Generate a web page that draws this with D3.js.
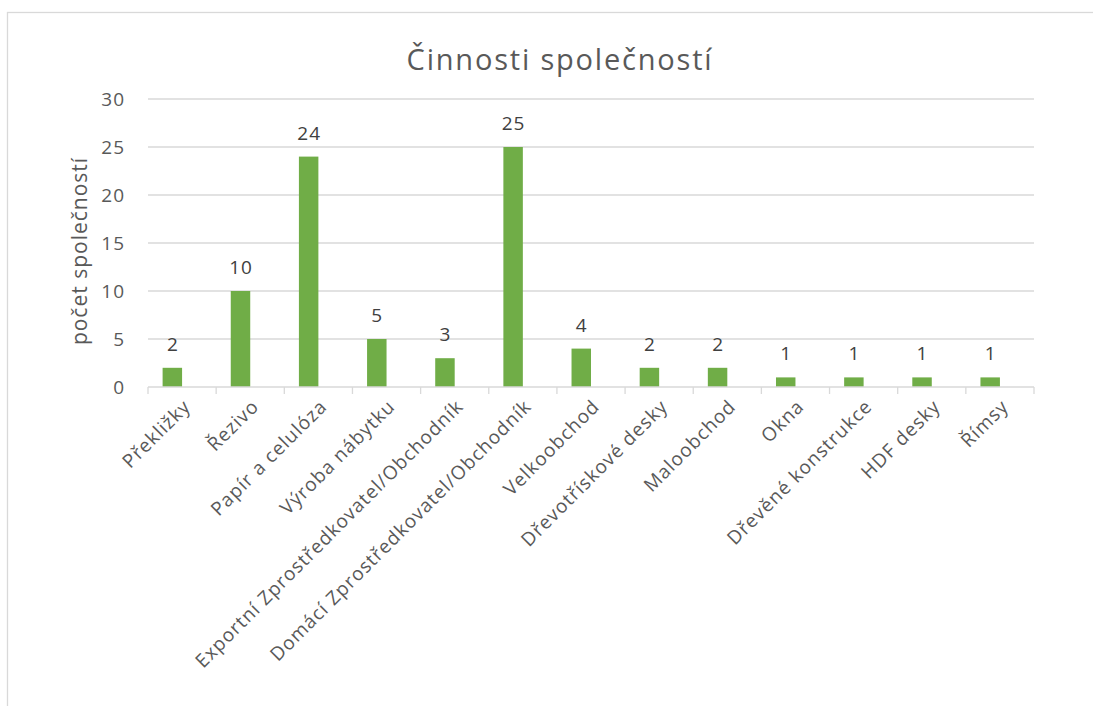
<!DOCTYPE html>
<html>
<head>
<meta charset="utf-8">
<title>Činnosti společností</title>
<script src="https://d3js.org/d3.v7.min.js"></script>
<style>
  body { margin: 0; background: #fff; }
  text { font-family: "Open Sans", "Noto Sans", sans-serif; }
</style>
</head>
<body>
<svg id="chart" width="1093" height="706"></svg>
<script>
// data
var categories = ['Překližky', 'Řezivo', 'Papír a celulóza', 'Výroba nábytku',
  'Exportní Zprostředkovatel/Obchodník', 'Domácí Zprostředkovatel/Obchodník',
  'Velkoobchod', 'Dřevotřískové desky', 'Maloobchod', 'Okna',
  'Dřevěné konstrukce', 'HDF desky', 'Římsy'];
var counts = [2, 10, 24, 5, 3, 25, 4, 2, 2, 1, 1, 1, 1];
var yTicks = [0, 5, 10, 15, 20, 25, 30];

var svg = d3.select('#chart');

// chart frame (right and bottom edges fall outside the picture)
svg.append('rect')
  .attr('x', 7.5).attr('y', 12.5)
  .attr('width', 1200).attr('height', 800)
  .attr('fill', 'none').attr('stroke', '#d9d9d9').attr('stroke-width', 1.3);

var plotL = 148, plotR = 1034, plotT = 99, plotB = 387;

var x = d3.scaleBand().domain(categories).range([plotL, plotR]);
var y = d3.scaleLinear().domain([0, 30]).range([plotB, plotT]);

// two series slots per category (second one is empty), gap width 150%
var bw = x.bandwidth();
var barW = bw / 3.5;

// gridlines
svg.append('g').selectAll('line')
  .data(yTicks.filter(function(d) { return d > 0; }))
  .enter().append('line')
    .attr('x1', plotL).attr('x2', plotR)
    .attr('y1', function(d) { return y(d); })
    .attr('y2', function(d) { return y(d); })
    .attr('stroke', '#d9d9d9').attr('stroke-width', 1.3);

// y labels
svg.append('g').selectAll('text')
  .data(yTicks)
  .enter().append('text')
    .attr('x', 125)
    .attr('y', function(d) { return y(d); })
    .attr('dy', '0.36em')
    .attr('text-anchor', 'end')
    .attr('fill', '#595959')
    .style('font-size', '19px')
    .style('letter-spacing', '1px')
    .text(function(d) { return d; });

// bars
svg.append('g').selectAll('rect')
  .data(counts)
  .enter().append('rect')
    .attr('x', function(d, i) { return x(categories[i]) + (bw - 2 * barW) / 2; })
    .attr('y', function(d) { return y(d); })
    .attr('width', barW)
    .attr('height', function(d) { return plotB - y(d); })
    .attr('fill', '#70ad47');

// value labels
svg.append('g').selectAll('text')
  .data(counts)
  .enter().append('text')
    .attr('x', function(d, i) { return x(categories[i]) + (bw - 2 * barW) / 2 + barW / 2 + 0.5; })
    .attr('y', function(d) { return y(d) - 17; })
    .attr('text-anchor', 'middle')
    .attr('fill', '#404040')
    .style('font-size', '19px')
    .style('letter-spacing', '1px')
    .text(function(d) { return d; });

// x axis line and ticks
var xAxis = svg.append('g');
xAxis.append('line')
  .attr('x1', plotL).attr('x2', plotR)
  .attr('y1', plotB).attr('y2', plotB)
  .attr('stroke', '#d9d9d9').attr('stroke-width', 1.3);
xAxis.selectAll('line.tick')
  .data(categories.concat(['end']))
  .enter().append('line')
    .attr('class', 'tick')
    .attr('x1', function(d, i) { return plotL + i * bw; })
    .attr('x2', function(d, i) { return plotL + i * bw; })
    .attr('y1', plotB).attr('y2', plotB + 7)
    .attr('stroke', '#d9d9d9').attr('stroke-width', 1.3);

// category labels at 45 degrees
xAxis.selectAll('text')
  .data(categories)
  .enter().append('text')
    .attr('transform', function(d) {
      return 'translate(' + (x(d) + bw / 2 + 5) + ',' + (plotB + 16) + ') rotate(-45)';
    })
    .attr('text-anchor', 'end')
    .attr('dy', '0.35em')
    .attr('fill', '#595959')
    .style('font-size', '19px')
    .style('letter-spacing', '1px')
    .text(function(d) { return d; });

// y axis title
svg.append('text')
  .attr('transform', 'translate(80,' + ((plotT + plotB) / 2 + 8) + ') rotate(-90)')
  .attr('text-anchor', 'middle')
  .attr('dy', '0.35em')
  .attr('fill', '#595959')
  .style('font-size', '21px')
  .style('letter-spacing', '1px')
  .text('počet společností');

// title
svg.append('text')
  .attr('x', 560).attr('y', 70)
  .attr('text-anchor', 'middle')
  .attr('fill', '#595959')
  .style('font-size', '29px')
  .style('letter-spacing', '1.8px')
  .text('Činnosti společností');
</script>
</body>
</html>
